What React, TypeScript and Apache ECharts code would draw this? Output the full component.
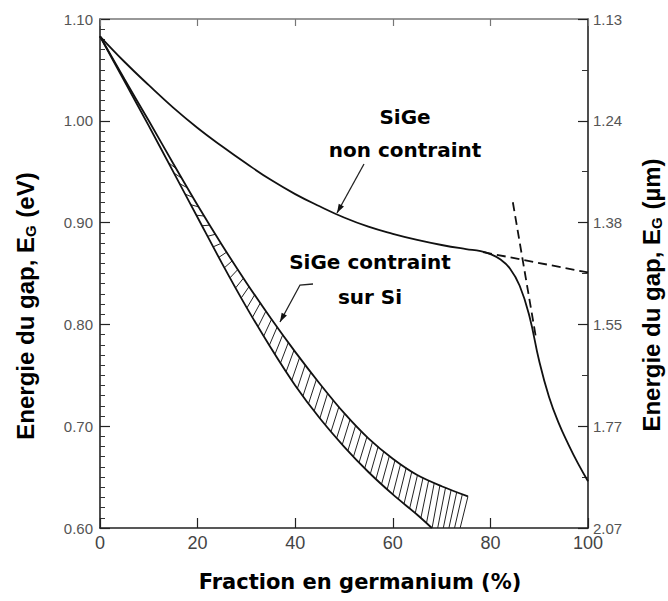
import React, { useEffect, useRef } from "react";
import * as echarts from "echarts";

// ---- data ----
const xTicks = [0, 20, 40, 60, 80, 100];
const leftTickLabels = ["0.60", "0.70", "0.80", "0.90", "1.00", "1.10"];
const rightTickLabels = ["2.07", "1.77", "1.55", "1.38", "1.24", "1.13"];

const unstrainedX = [0, 5, 10, 15, 20, 25, 30, 35, 40, 45, 50, 55, 60, 65, 70, 75, 78, 80, 82, 84, 86, 88, 90, 92, 94, 96, 98, 100];
const unstrainedY = [1.083, 1.058, 1.035, 1.013, 0.993, 0.975, 0.958, 0.942, 0.928, 0.916, 0.905, 0.896, 0.889, 0.883, 0.878, 0.874, 0.872, 0.869, 0.864, 0.855, 0.838, 0.808, 0.764, 0.729, 0.703, 0.682, 0.663, 0.646];

const strainedUpperX = [0, 5, 10, 15, 20, 25, 30, 35, 40, 45, 50, 55, 60, 65, 70, 75.4];
const strainedUpperY = [1.083, 1.041, 1.0, 0.958, 0.917, 0.878, 0.841, 0.806, 0.773, 0.742, 0.713, 0.688, 0.668, 0.652, 0.641, 0.631];

const strainedLowerX = [0, 5, 10, 15, 20, 25, 30, 35, 40, 45, 50, 55, 60, 65, 68];
const strainedLowerY = [1.083, 1.039, 0.995, 0.95, 0.905, 0.86, 0.817, 0.777, 0.74, 0.708, 0.68, 0.655, 0.633, 0.613, 0.6];

const dashedFlatX = [78.5, 100];
const dashedFlatY = [0.871, 0.851];
const dashedSteepX = [84.6, 89.3];
const dashedSteepY = [0.92, 0.788];

const Y_MIN = 0.6;
const Y_MAX = 1.1;

function zip(xs: number[], ys: number[]) {
  return xs.map((x, i) => [x, ys[i]]);
}

function interp(xs: number[], ys: number[], x: number): number {
  if (x <= xs[0]) return ys[0];
  if (x >= xs[xs.length - 1]) return ys[ys.length - 1];
  for (let i = 1; i < xs.length; i++) {
    if (x <= xs[i]) {
      const t = (x - xs[i - 1]) / (xs[i] - xs[i - 1]);
      return ys[i - 1] + t * (ys[i] - ys[i - 1]);
    }
  }
  return ys[ys.length - 1];
}

function arrowHead(tip: number[], from: number[], len = 9, half = 3) {
  const dx = tip[0] - from[0];
  const dy = tip[1] - from[1];
  const l = Math.sqrt(dx * dx + dy * dy);
  const ux = dx / l, uy = dy / l;
  const bx = tip[0] - ux * len, by = tip[1] - uy * len;
  return [tip, [bx - uy * half, by + ux * half], [bx + uy * half, by - ux * half]];
}

const LINE = "#111";
const LABEL_FONT = "'Liberation Sans', Arial, sans-serif";
const ANN_FONT = "'DejaVu Sans', sans-serif";

export default function App() {
  const ref = useRef<HTMLDivElement>(null);
  useEffect(() => {
    document.body.style.margin = "0";
    const chart = echarts.init(ref.current!, undefined, { renderer: "svg" });

    const hatchSeries = {
      type: "custom",
      xAxisIndex: 0,
      yAxisIndex: 0,
      clip: true,
      silent: true,
      data: [[0, 0]],
      renderItem: (params: any, api: any) => {
        const children: any[] = [];
        const endUpper = strainedUpperX[strainedUpperX.length - 1];
        const endLower = strainedLowerX[strainedLowerX.length - 1];
        const slant = 1.6;
        for (let x0 = 14; x0 <= endUpper - 0.6; x0 += 1.15) {
          const lo = x0 > endLower ? Y_MIN : interp(strainedLowerX, strainedLowerY, x0);
          const x1 = Math.min(x0 + slant, endUpper);
          const hi = interp(strainedUpperX, strainedUpperY, x1);
          const p0 = api.coord([x0, lo]);
          const p1 = api.coord([x1, hi]);
          children.push({
            type: "line",
            shape: { x1: p0[0], y1: p0[1], x2: p1[0], y2: p1[1] },
            style: { stroke: "#222", lineWidth: 1 },
          });
        }
        return { type: "group", children };
      },
    };

    const lineStyleSolid = { color: LINE, width: 1.8 };

    const a1from = [364, 164];
    const a1tip = [337, 213];
    const a2pts = [[313, 284], [300, 285], [280, 322]];

    const titleRich = {
      a: { fontSize: 24, fontWeight: "bold", fontFamily: LABEL_FONT, lineHeight: 28 },
      s: { fontSize: 15, fontWeight: "bold", fontFamily: LABEL_FONT, lineHeight: 28, padding: [10, 1, 0, 0] },
    };

    chart.setOption({
      animation: false,
      backgroundColor: "#fff",
      grid: { left: 100, right: 80, top: 19, bottom: 73 },
      xAxis: [
        {
          type: "value",
          min: 0,
          max: 100,
          interval: 20,
          position: "bottom",
          axisLine: { show: true, onZero: false, lineStyle: { color: "#222", width: 1.6 } },
          axisTick: { show: true, inside: true, length: 10, lineStyle: { color: "#222", width: 1.2 } },
          splitLine: { show: false },
          axisLabel: {
            color: "#444",
            fontSize: 18,
            fontFamily: LABEL_FONT,
            margin: 6,
            formatter: (v: number) => String(xTicks.find((t) => Math.abs(t - v) < 1e-6) ?? v),
          },
        },
        {
          type: "value",
          min: 0,
          max: 100,
          interval: 20,
          position: "top",
          axisLine: { show: true, onZero: false, lineStyle: { color: "#777", width: 1.6 } },
          axisTick: { show: true, inside: true, length: 7, lineStyle: { color: "#777", width: 1.2 } },
          splitLine: { show: false },
          axisLabel: { show: false },
        },
      ],
      yAxis: [
        {
          type: "value",
          min: Y_MIN,
          max: Y_MAX,
          interval: 0.1,
          position: "left",
          axisLine: { show: true, onZero: false, lineStyle: { color: "#222", width: 1.6 } },
          axisTick: { show: true, inside: true, length: 10, lineStyle: { color: "#222", width: 1.2 } },
          minorTick: { show: true, splitNumber: 10, length: 5, lineStyle: { color: "#333", width: 1 } },
          splitLine: { show: false },
          axisLabel: {
            color: "#555",
            fontSize: 15,
            fontFamily: LABEL_FONT,
            margin: 7,
            formatter: (v: number) => leftTickLabels[Math.round((v - Y_MIN) / 0.1)] ?? "",
          },
        },
        {
          type: "value",
          min: Y_MIN,
          max: Y_MAX,
          interval: 0.1,
          position: "right",
          axisLine: { show: true, onZero: false, lineStyle: { color: "#222", width: 1.6 } },
          axisTick: { show: true, inside: true, length: 10, lineStyle: { color: "#222", width: 1.2 } },
          minorTick: { show: true, splitNumber: 2, length: 6, lineStyle: { color: "#333", width: 1 } },
          splitLine: { show: false },
          axisLabel: {
            color: "#555",
            fontSize: 15,
            fontFamily: LABEL_FONT,
            margin: 5,
            formatter: (v: number) => rightTickLabels[Math.round((v - Y_MIN) / 0.1)] ?? "",
          },
        },
      ],
      series: [
        {
          type: "line",
          data: zip(unstrainedX, unstrainedY),
          smooth: 0.45,
          showSymbol: false,
          lineStyle: lineStyleSolid,
          silent: true,
        },
        {
          type: "line",
          data: zip(strainedUpperX, strainedUpperY),
          smooth: 0.3,
          showSymbol: false,
          lineStyle: lineStyleSolid,
          silent: true,
        },
        {
          type: "line",
          data: zip(strainedLowerX, strainedLowerY),
          smooth: 0.3,
          showSymbol: false,
          lineStyle: lineStyleSolid,
          silent: true,
        },
        hatchSeries,
        {
          type: "line",
          data: zip(dashedFlatX, dashedFlatY),
          showSymbol: false,
          lineStyle: { color: LINE, width: 1.8, type: [9, 5] },
          silent: true,
        },
        {
          type: "line",
          data: zip(dashedSteepX, dashedSteepY),
          showSymbol: false,
          lineStyle: { color: LINE, width: 1.8, type: [9, 5] },
          silent: true,
        },
      ],
      graphic: [
        {
          type: "text",
          x: 405,
          y: 117,
          style: { text: "SiGe", fill: "#000", font: `bold 20px ${ANN_FONT}`, align: "center", verticalAlign: "middle" },
        },
        {
          type: "text",
          x: 405,
          y: 150,
          style: { text: "non contraint", fill: "#000", font: `bold 20px ${ANN_FONT}`, align: "center", verticalAlign: "middle" },
        },
        {
          type: "text",
          x: 370,
          y: 262,
          style: { text: "SiGe contraint", fill: "#000", font: `bold 20px ${ANN_FONT}`, align: "center", verticalAlign: "middle" },
        },
        {
          type: "text",
          x: 370,
          y: 297,
          style: { text: "sur Si", fill: "#000", font: `bold 20px ${ANN_FONT}`, align: "center", verticalAlign: "middle" },
        },
        {
          type: "line",
          shape: { x1: a1from[0], y1: a1from[1], x2: a1tip[0], y2: a1tip[1] },
          style: { stroke: "#222", lineWidth: 1.3 },
        },
        {
          type: "polygon",
          shape: { points: arrowHead(a1tip, a1from) },
          style: { fill: "#111" },
        },
        {
          type: "polyline",
          shape: { points: a2pts },
          style: { stroke: "#222", lineWidth: 1.3, fill: "none" },
        },
        {
          type: "polygon",
          shape: { points: arrowHead(a2pts[2], a2pts[1]) },
          style: { fill: "#111" },
        },
        {
          type: "text",
          x: 360,
          y: 582,
          style: { text: "Fraction en germanium (%)", fill: "#000", font: `bold 21px ${ANN_FONT}`, align: "center", verticalAlign: "middle" },
        },
        {
          type: "text",
          x: 25,
          y: 306,
          rotation: Math.PI / 2,
          style: {
            text: "{a|Energie du gap, E}{s|G}{a| (eV)}",
            align: "center",
            verticalAlign: "middle",
            fill: "#000",
            rich: titleRich,
          },
        },
        {
          type: "text",
          x: 651,
          y: 295,
          rotation: Math.PI / 2,
          style: {
            text: "{a|Energie du gap, E}{s|G}{a| (µm)}",
            align: "center",
            verticalAlign: "middle",
            fill: "#000",
            rich: titleRich,
          },
        },
      ],
    });
    return () => chart.dispose();
  }, []);
  return <div ref={ref} style={{ width: 668, height: 601 }} />;
}
